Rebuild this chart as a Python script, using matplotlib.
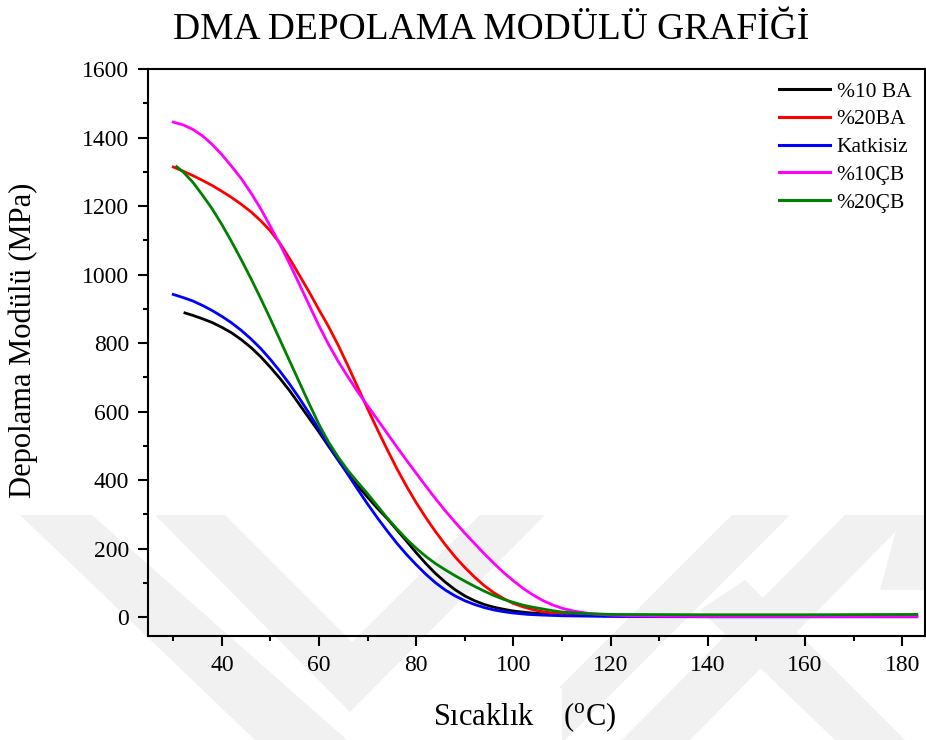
import numpy as np
import matplotlib
matplotlib.use("Agg")
import matplotlib.pyplot as plt
from matplotlib.patches import Polygon, Rectangle
from matplotlib.ticker import MultipleLocator

plt.rcParams['font.family'] = ['Liberation Serif', 'DejaVu Serif']
plt.rcParams['mathtext.fontset'] = 'custom'
plt.rcParams['mathtext.rm'] = 'Liberation Serif'

# storage modulus (MPa) vs temperature (C) for each sample
t_10ba = [32.4, 34, 36, 38, 40, 42, 44, 46, 48, 50, 52, 54, 56, 58, 60, 62, 64, 66, 68, 70,
          72, 74, 76, 78, 80, 82, 84, 86, 88, 90, 92, 94, 96, 98, 100, 103, 106, 110, 120, 140, 160, 183]
e_10ba = [888, 881, 871, 860, 846, 830, 810, 787, 760, 729, 696, 660, 620, 580, 540, 498, 457, 418, 383, 350,
          318, 288, 255, 222, 188, 156, 127, 102, 80, 62, 48, 37, 29, 23, 18, 13, 10, 7, 5, 5, 5, 5]

t_20ba = [30, 32, 34, 36, 38, 40, 42, 44, 46, 48, 50, 52, 54, 56, 58, 60, 62, 64, 66, 68, 70,
          72, 74, 76, 78, 80, 82, 84, 86, 88, 90, 92, 94, 96, 98, 100, 102, 104, 106, 108, 110,
          112, 115, 120, 130, 150, 183]
e_20ba = [1314, 1302, 1289, 1275, 1260, 1243, 1225, 1205, 1183, 1157, 1127, 1090, 1045, 997, 948, 897, 847, 792, 732, 670, 608,
          548, 490, 434, 382, 334, 290, 249, 211, 176, 145, 117, 92, 71, 54, 40, 30, 22, 16, 12, 9,
          7, 5, 4, 3, 3, 3]

t_katkisiz = [30, 32, 34, 36, 38, 40, 42, 44, 46, 48, 50, 52, 54, 56, 58, 60, 62, 64, 66, 68, 70,
              72, 74, 76, 78, 80, 82, 84, 86, 88, 90, 92, 94, 96, 98, 100, 103, 106, 110, 120, 140, 183]
e_katkisiz = [942, 933, 923, 910, 895, 878, 859, 837, 812, 784, 752, 717, 679, 638, 594, 548, 502, 458, 415, 372, 330,
              290, 252, 216, 183, 153, 125, 100, 79, 62, 48, 37, 28, 21, 16, 12, 8, 6, 4, 2, 1, 1]

t_10cb = [30, 32, 34, 36, 38, 40, 42, 44, 46, 48, 50, 52, 54, 56, 58, 60, 62, 64, 66, 68, 70,
          72, 74, 76, 78, 80, 82, 84, 86, 88, 90, 92, 94, 96, 98, 100, 102, 104, 106, 108, 110,
          112, 114, 116, 118, 120, 125, 130, 140, 160, 183]
e_10cb = [1445, 1437, 1424, 1405, 1380, 1350, 1316, 1280, 1238, 1192, 1140, 1087, 1030, 970, 910, 850, 795, 745, 700, 657, 617,
          577, 537, 497, 458, 420, 382, 345, 310, 277, 245, 215, 185, 157, 130, 106, 84, 65, 49, 36, 26,
          19, 14, 10, 8, 6, 4, 3, 2, 2, 2]

t_20cb = [30.7, 32, 34, 36, 38, 40, 42, 44, 46, 48, 50, 52, 54, 56, 58, 60, 62, 64, 66, 68, 70,
          72, 74, 76, 78, 80, 82, 84, 86, 88, 90, 92, 94, 96, 98, 100, 102, 104, 106, 108, 110,
          113, 116, 120, 140, 160, 183]
e_20cb = [1315, 1300, 1270, 1232, 1192, 1146, 1096, 1043, 988, 930, 870, 808, 746, 684, 622, 562, 510, 466, 427, 393, 360,
          325, 290, 258, 228, 201, 177, 156, 138, 121, 105, 90, 76, 63, 52, 43, 35, 29, 24, 19, 15,
          12, 10, 8, 7, 7, 8]

labels = ["%10 BA", "%20BA", "Katkisiz", "%10ÇB", "%20ÇB"]
colors = ["black", "red", "blue", "magenta", "green"]

W, H = 926, 740
fig = plt.figure(figsize=(W / 100, H / 100), dpi=100)

# faint background chevrons (pixel coords, y from top)
wm = [
    [(20, 515), (92, 515), (347, 740), (255, 740)],
    [(155, 515), (225, 515), (352, 642), (480, 515), (545, 515), (350, 712)],
    [(732, 515), (790, 515), (565, 740), (507, 740)],
    [(845, 515), (912, 515), (690, 740), (622, 740)],
    [(700, 610), (745, 580), (905, 740), (835, 740)],
    [(900, 515), (926, 515), (926, 590), (880, 590)],
]
for pts in wm:
    fig.patches.append(Polygon([(x / W, 1 - y / H) for x, y in pts], closed=True,
                               transform=fig.transFigure, facecolor='#f1f1f1',
                               edgecolor='none', zorder=-3))
fig.patches.append(Rectangle((412 / W, 0), 150 / W, 52 / H, transform=fig.transFigure,
                             facecolor='white', edgecolor='none', zorder=-2))

ax = fig.add_axes([148 / W, 1 - 636 / H, (925 - 148) / W, (636 - 69) / H])
ax.set_facecolor('none')

series = [(t_10ba, e_10ba), (t_20ba, e_20ba), (t_katkisiz, e_katkisiz),
          (t_10cb, e_10cb), (t_20cb, e_20cb)]
for (t, e), lab, c in zip(series, labels, colors):
    ax.plot(t, e, color=c, lw=2.0, label=lab, solid_joinstyle='round')

ax.set_xlim(24.8, 184.7)
ax.set_ylim(-55, 1600)
ax.xaxis.set_minor_locator(MultipleLocator(10))
ax.yaxis.set_minor_locator(MultipleLocator(100))
ax.set_xticks(np.arange(40, 181, 20))
ax.set_yticks(np.arange(0, 1601, 200))

for s in ax.spines.values():
    s.set_linewidth(1.5)
ax.tick_params(which='major', direction='out', length=7.5, width=1.5, labelsize=17,
               top=False, right=False, pad=6)
ax.tick_params(which='minor', direction='out', length=3.8, width=1.5,
               top=False, right=False)

ax.set_ylabel("Depolama Modülü (MPa)", fontsize=22)
ax.yaxis.set_label_coords(-0.142, 0.522)
ax.set_xlabel("Sıcaklık    ($^{\\rm o}$C)", fontsize=22)
ax.xaxis.set_label_coords(0.485, -0.113)

fig.text(491 / W, 1 - 30 / H, "DMA DEPOLAMA MODÜLÜ GRAFİĞİ", fontsize=27,
         ha='center', va='center')

leg = ax.legend(loc='upper left', bbox_to_anchor=(0.812, 0.978), frameon=False,
                fontsize=15.5, handlelength=2.35, handletextpad=0.33,
                labelspacing=0.36, borderpad=0, borderaxespad=0)
for h in leg.get_lines():
    h.set_linewidth(2.2)

fig.savefig("out.png", dpi=100)
